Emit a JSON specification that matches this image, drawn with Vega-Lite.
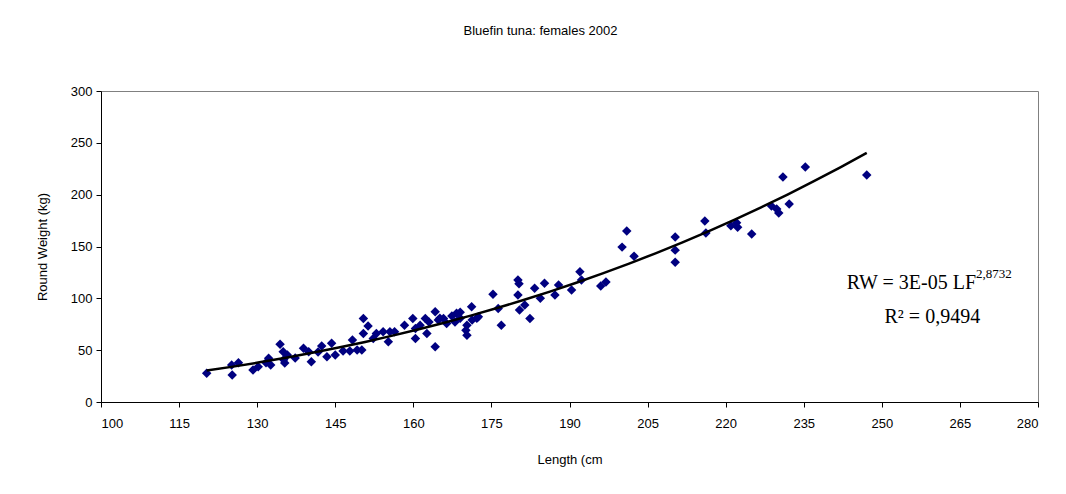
{
  "$schema": "https://vega.github.io/schema/vega-lite/v6.json",
  "autosize": {"type": "none"},
  "width": 937,
  "height": 311,
  "padding": {"left": 101, "top": 91, "right": 28, "bottom": 92},
  "background": "white",
  "title": {
    "text": "Bluefin tuna: females 2002",
    "font": "Liberation Sans",
    "fontSize": 13,
    "fontWeight": "normal",
    "color": "black",
    "anchor": "middle",
    "dx": -29,
    "offset": 47
  },
  "config": {
    "view": {"stroke": "#808080", "strokeWidth": 1},
    "axis": {
      "labelFont": "Liberation Sans",
      "titleFont": "Liberation Sans",
      "labelFontSize": 13,
      "titleFontSize": 13,
      "titleFontWeight": "normal",
      "labelColor": "black",
      "titleColor": "black",
      "domainColor": "black",
      "tickColor": "black",
      "grid": false,
      "tickSize": 5
    }
  },
  "layer": [
    {
      "data": {
        "values": [
          {"L": 120.3, "W": 27.8},
          {"L": 125.2, "W": 26.0},
          {"L": 125.1, "W": 35.6},
          {"L": 126.4, "W": 37.9},
          {"L": 129.2, "W": 30.8},
          {"L": 130.2, "W": 34.0},
          {"L": 131.7, "W": 37.8},
          {"L": 132.2, "W": 42.1},
          {"L": 132.6, "W": 35.6},
          {"L": 134.4, "W": 55.7},
          {"L": 135.0, "W": 48.5},
          {"L": 135.1, "W": 40.8},
          {"L": 135.3, "W": 37.6},
          {"L": 135.8, "W": 45.3},
          {"L": 137.3, "W": 42.4},
          {"L": 138.9, "W": 51.8},
          {"L": 139.9, "W": 48.5},
          {"L": 140.4, "W": 38.8},
          {"L": 141.7, "W": 48.2},
          {"L": 142.4, "W": 54.0},
          {"L": 143.4, "W": 43.7},
          {"L": 144.3, "W": 56.6},
          {"L": 145.0, "W": 45.3},
          {"L": 146.5, "W": 49.2},
          {"L": 147.8, "W": 49.2},
          {"L": 148.3, "W": 59.8},
          {"L": 149.2, "W": 50.2},
          {"L": 150.1, "W": 50.2},
          {"L": 150.4, "W": 80.6},
          {"L": 150.4, "W": 66.1},
          {"L": 151.3, "W": 73.2},
          {"L": 152.3, "W": 61.3},
          {"L": 152.9, "W": 66.1},
          {"L": 154.2, "W": 67.7},
          {"L": 155.2, "W": 58.2},
          {"L": 155.5, "W": 67.7},
          {"L": 156.4, "W": 67.7},
          {"L": 158.3, "W": 74.1},
          {"L": 159.9, "W": 80.6},
          {"L": 160.4, "W": 71.0},
          {"L": 160.4, "W": 61.3},
          {"L": 161.3, "W": 74.1},
          {"L": 162.3, "W": 80.6},
          {"L": 162.6, "W": 66.1},
          {"L": 163.0, "W": 77.1},
          {"L": 164.2, "W": 87.0},
          {"L": 164.2, "W": 53.3},
          {"L": 164.8, "W": 79.0},
          {"L": 165.1, "W": 80.9},
          {"L": 165.8, "W": 80.6},
          {"L": 166.4, "W": 75.8},
          {"L": 167.4, "W": 82.9},
          {"L": 168.0, "W": 77.1},
          {"L": 168.3, "W": 85.5},
          {"L": 169.0, "W": 86.6},
          {"L": 169.0, "W": 80.9},
          {"L": 170.1, "W": 69.3},
          {"L": 170.3, "W": 74.1},
          {"L": 170.3, "W": 64.5},
          {"L": 171.2, "W": 91.9},
          {"L": 171.3, "W": 79.0},
          {"L": 172.2, "W": 80.9},
          {"L": 172.5, "W": 82.2},
          {"L": 175.3, "W": 103.9},
          {"L": 176.3, "W": 90.3},
          {"L": 176.9, "W": 74.1},
          {"L": 180.1, "W": 117.7},
          {"L": 180.3, "W": 114.1},
          {"L": 180.1, "W": 103.2},
          {"L": 180.4, "W": 88.7},
          {"L": 181.4, "W": 93.5},
          {"L": 182.4, "W": 80.6},
          {"L": 183.3, "W": 109.7},
          {"L": 184.4, "W": 100.0},
          {"L": 185.2, "W": 114.5},
          {"L": 187.2, "W": 103.2},
          {"L": 187.9, "W": 112.9},
          {"L": 190.4, "W": 108.0},
          {"L": 192.0, "W": 125.7},
          {"L": 192.3, "W": 117.7},
          {"L": 196.0, "W": 111.9},
          {"L": 197.0, "W": 115.8},
          {"L": 200.1, "W": 149.4},
          {"L": 201.0, "W": 164.9},
          {"L": 202.4, "W": 140.7},
          {"L": 210.3, "W": 159.1},
          {"L": 210.3, "W": 146.5},
          {"L": 210.3, "W": 134.9},
          {"L": 216.0, "W": 174.6},
          {"L": 216.2, "W": 163.0},
          {"L": 221.0, "W": 169.9},
          {"L": 222.1, "W": 173.0},
          {"L": 222.3, "W": 168.6},
          {"L": 225.0, "W": 162.0},
          {"L": 228.8, "W": 189.1},
          {"L": 229.8, "W": 186.2},
          {"L": 230.2, "W": 182.3},
          {"L": 231.0, "W": 217.1},
          {"L": 232.2, "W": 190.9},
          {"L": 235.3, "W": 226.8},
          {"L": 247.1, "W": 219.0}
        ]
      },
      "layer": [
        {
          "mark": {"type": "point", "shape": "diamond", "filled": true, "color": "#000080", "opacity": 1, "size": 90},
          "encoding": {
            "x": {
              "field": "L", "type": "quantitative",
              "scale": {"domain": [100, 280], "nice": false, "zero": false},
              "axis": {"values": [100, 115, 130, 145, 160, 175, 190, 205, 220, 235, 250, 265, 280], "title": "Length (cm", "labelPadding": 10, "titlePadding": 23}
            },
            "y": {
              "field": "W", "type": "quantitative",
              "scale": {"domain": [0, 300], "nice": false},
              "axis": {"values": [0, 50, 100, 150, 200, 250, 300], "title": "Round Weight (kg)", "labelPadding": 4, "titlePadding": 21}
            }
          }
        },
        {
          "transform": [{"regression": "W", "on": "L", "method": "pow", "extent": [120.3, 247.1]}],
          "mark": {"type": "line", "color": "black", "strokeWidth": 2.5},
          "encoding": {
            "x": {"field": "L", "type": "quantitative"},
            "y": {"field": "W", "type": "quantitative"}
          }
        }
      ]
    },
    {
      "data": {"values": [{}]},
      "mark": {"type": "text", "text": "RW = 3E-05 LF", "font": "Liberation Serif", "fontSize": 20, "align": "right", "baseline": "alphabetic", "color": "black"},
      "encoding": {"x": {"datum": 268.1}, "y": {"datum": 109}}
    },
    {
      "data": {"values": [{}]},
      "mark": {"type": "text", "text": "2,8732", "font": "Liberation Serif", "fontSize": 13, "align": "left", "baseline": "alphabetic", "color": "black"},
      "encoding": {"x": {"datum": 268.1}, "y": {"datum": 119.6}}
    },
    {
      "data": {"values": [{}]},
      "mark": {"type": "text", "text": "R² = 0,9494", "font": "Liberation Serif", "fontSize": 20, "align": "center", "baseline": "alphabetic", "color": "black"},
      "encoding": {"x": {"datum": 259.7}, "y": {"datum": 76.2}}
    }
  ]
}
